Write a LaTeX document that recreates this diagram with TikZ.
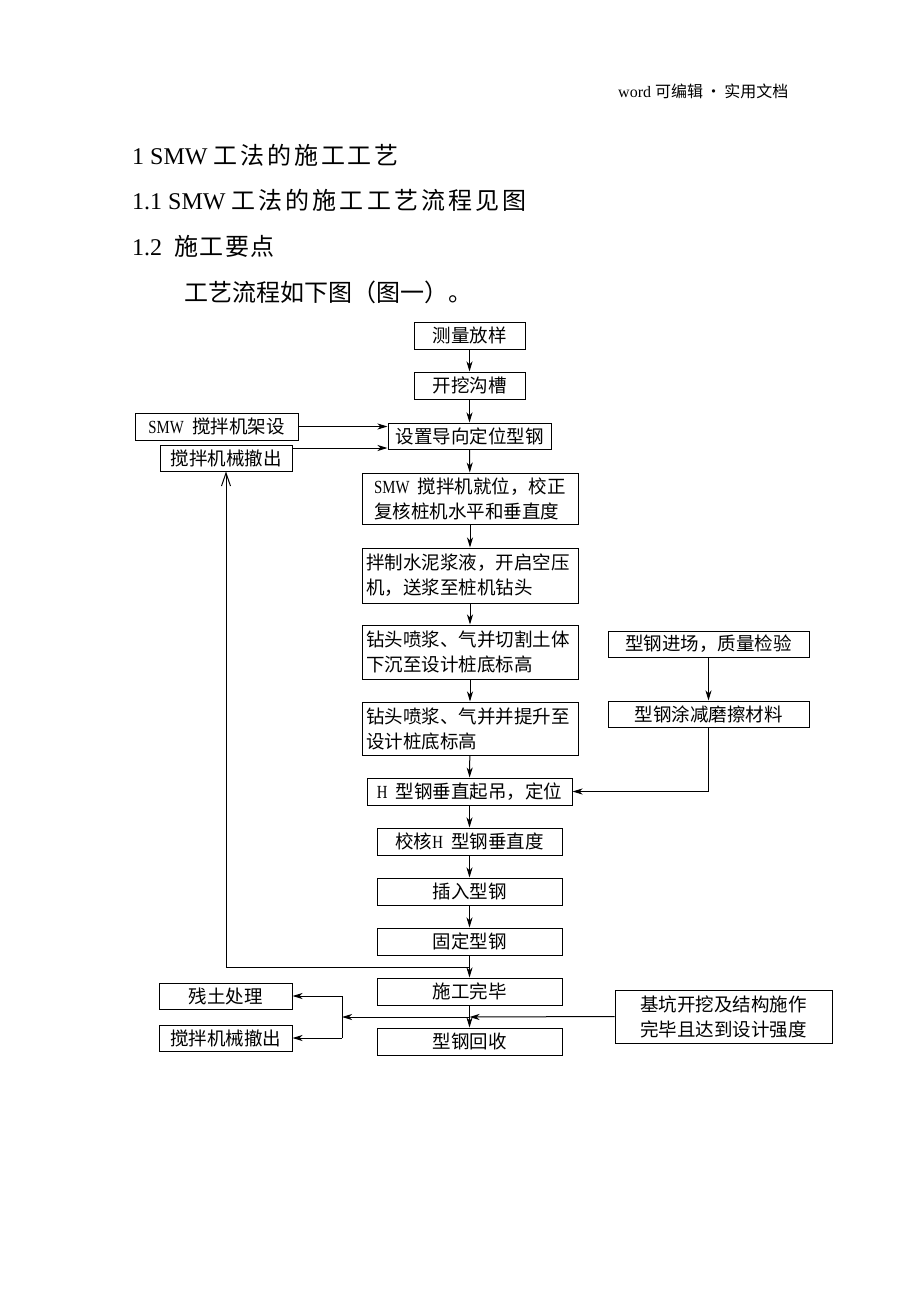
\documentclass[tikz,border=0pt]{standalone}
\usepackage{fontspec}
\setmainfont{Liberation Serif}
\newfontfamily\cjkf{Noto Sans CJK SC}
\newfontfamily\narrowser[FakeStretch=0.8]{Liberation Serif}
\usetikzlibrary{arrows.meta}
\tikzset{
  box/.style={draw, line width=1pt, inner sep=0pt, minimum width=#1,
    font=\fontsize{18.5}{25}\selectfont\cjkf},
  box/.default=163pt,
  conn/.style={line width=1pt, -{Stealth[length=10pt,width=6pt,inset=3pt]}},
  plain/.style={line width=1pt},
  openup/.style={line width=1pt, -{Straight Barb[length=13pt,width=9pt]}},
  hd/.style={anchor=west, inner sep=0pt, font=\fontsize{24}{28}\selectfont}
}
\begin{document}
\begin{tikzpicture}[x=1pt,y=-1pt]
\useasboundingbox (0,0) rectangle (920,1307);
\fill[white] (0,0) rectangle (920,1307);

% page text
\node[anchor=west, inner sep=0pt, font=\fontsize{16}{18}\selectfont] (hdr) at (618,91)
  {word {\cjkf 可编辑\,•\,实用文档}};
\node[hd] (t1) at (132,155) {1 SMW {\cjkf\addfontfeature{LetterSpace=12} 工法的施工工艺}};
\node[hd] (t2) at (132,200) {1.1 SMW {\cjkf\addfontfeature{LetterSpace=13} 工法的施工工艺流程见图}};
\node[hd] (t3) at (132,246) {1.2\ \ {\cjkf\addfontfeature{LetterSpace=6} 施工要点}};
\node[hd] (t4) at (184,292) {{\cjkf 工艺流程如下图（图一）。}};

% boxes
\node[box=111pt, minimum height=27pt] (cl) at (469.5,335.5) {测量放样};
\node[box=111pt, minimum height=27pt] (kw) at (469.5,385.5) {开挖沟槽};
\node[box=163pt, minimum height=26pt] (sz) at (469.5,436) {设置导向定位型钢};
\node[box=163pt, minimum height=27pt] (jia) at (216.5,426.5) {{\narrowser SMW}\ \ 搅拌机架设};
\node[box=132pt, minimum height=26pt] (ch1) at (226,458) {搅拌机械撤出};
\node[box=216pt, minimum height=51pt, align=left] (jw) at (470,498.5)
  {{\narrowser SMW}\ \ 搅拌机就位，校正\\复核桩机水平和垂直度};
\node[box=216pt, minimum height=55pt, align=left, text width=208pt] (bz) at (470,575.5)
  {拌制水泥浆液，开启空压\\机，送浆至桩机钻头};
\node[box=216pt, minimum height=54pt, align=left, text width=208pt] (zt1) at (470,652)
  {钻头喷浆、气并切割土体\\下沉至设计桩底标高};
\node[box=216pt, minimum height=53pt, align=left, text width=208pt] (zt2) at (470,728.5)
  {钻头喷浆、气并并提升至\\设计桩底标高};
\node[box=205pt, minimum height=27pt] (hq) at (469.5,791.5) {{\narrowser H}\ \ 型钢垂直起吊，定位};
\node[box=201pt, minimum height=26pt] (jc) at (708.5,644) {型钢进场，质量检验};
\node[box=201pt, minimum height=26pt] (tj) at (708.5,714) {型钢涂减磨擦材料};
\node[box=185pt, minimum height=27pt] (jh) at (469.5,841.5) {校核{\narrowser H}\ \ 型钢垂直度};
\node[box=185pt, minimum height=27pt] (cr) at (469.5,891.5) {插入型钢};
\node[box=185pt, minimum height=27pt] (gd) at (469.5,941.5) {固定型钢};
\node[box=185pt, minimum height=27pt] (wb) at (469.5,991.5) {施工完毕};
\node[box=185pt, minimum height=27pt] (hs) at (469.5,1041.5) {型钢回收};
\node[box=133pt, minimum height=26pt] (ct) at (225.5,996) {残土处理};
\node[box=133pt, minimum height=26pt] (ch2) at (225.5,1038) {搅拌机械撤出};
\node[box=217pt, minimum height=53pt, align=center] (jk) at (723.5,1016.5)
  {基坑开挖及结构施作\\完毕且达到设计强度};

% helper coordinates
\coordinate (loopc) at (226,967);
\coordinate (mainc) at (469.5,967);
\coordinate (jx) at (469.5,1017);
\coordinate (bx) at (342,1017);
\coordinate (bt) at (342,996);
\coordinate (bb) at (342,1038);

% main chain
\draw[conn] (cl) -- (kw);
\draw[conn] (kw) -- (sz);
\draw[conn] (sz) -- (jw);
\draw[conn] (jw) -- (bz);
\draw[conn] (bz) -- (zt1);
\draw[conn] (zt1) -- (zt2);
\draw[conn] (zt2) -- (hq);
\draw[conn] (hq) -- (jh);
\draw[conn] (jh) -- (cr);
\draw[conn] (cr) -- (gd);
\draw[conn] (gd) -- (wb);
\draw[conn] (wb) -- (hs);

% side inputs
\draw[conn] (jia.east) -- (jia.east -| sz.west);
\draw[conn] ([yshift=10pt]ch1.east) -- ([yshift=10pt]ch1.east -| sz.west);
\draw[conn] (jc) -- (tj);
\draw[conn] (tj.south) |- (hq.east);

% loop back
\draw[plain] (mainc) -- (loopc);
\draw[openup] (loopc) -- (ch1.south);

% bottom branch
\draw[conn] (jk.west) -- (jx);
\draw[conn] (jx) -- (bx);
\draw[plain] (bt) -- (bb);
\draw[conn] (bt) -- (ct.east);
\draw[conn] (bb) -- (ch2.east);
\end{tikzpicture}
\end{document}
